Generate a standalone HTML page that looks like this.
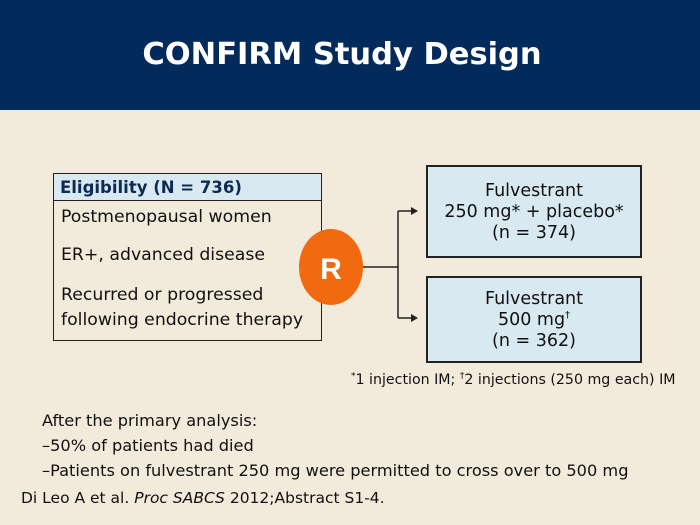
<!DOCTYPE html>
<html><head><meta charset="utf-8"><style>
body{margin:0;width:700px;height:525px;background:#f2ebdb;font-family:"DejaVu Sans","Liberation Sans",sans-serif;position:relative;overflow:hidden;color:#111}
sup{line-height:0}
.bar{position:absolute;left:0;top:0;width:700px;height:110px;background:#022b5b}
.title{position:absolute;left:-8px;width:700px;top:37px;text-align:center;color:#fff;font-weight:bold;font-size:30.5px}
.abs{position:absolute;white-space:nowrap}
.lb{position:absolute;left:53px;top:173px;width:267px;height:166px;border:1.5px solid #222;background:#f2ebdb}
.lh{height:26px;border-bottom:1.5px solid #222;background:#d8e9f1;font-weight:bold;color:#0f2a52;font-size:16.5px;padding-left:6px;line-height:27px}
.rb{position:absolute;left:426px;width:212px;border:2px solid #222;background:#d8e9f1;text-align:center;font-size:17.5px;line-height:21px}
</style></head><body>
<div class="bar"></div>
<div class="title">CONFIRM Study Design</div>
<div class="lb"><div class="lh">Eligibility (N = 736)</div></div>
<div class="abs" style="left:61px;top:207px;font-size:17.3px">Postmenopausal women</div>
<div class="abs" style="left:61px;top:245px;font-size:17.3px">ER+, advanced disease</div>
<div class="abs" style="left:61px;top:283px;font-size:17.3px;line-height:25px">Recurred or progressed<br>following endocrine therapy</div>
<svg class="abs" style="left:0;top:0" width="700" height="525">
<ellipse cx="331" cy="267" rx="32" ry="38" fill="#f26a10"/>
<text x="331" y="279" text-anchor="middle" fill="#fff" font-size="30" font-weight="bold" font-family="Liberation Sans,sans-serif">R</text>
<path d="M363 267H398M398 211V318M398 211H412M398 318H412" stroke="#222" stroke-width="1.5" fill="none"/>
<path d="M418 211l-7-4v8z M418 318l-7-4v8z" fill="#222"/>
</svg>
<div class="rb" style="top:165px;height:89px"><div style="margin-top:14px">Fulvestrant<br>250 mg* + placebo*<br>(n = 374)</div></div>
<div class="rb" style="top:276px;height:83px"><div style="margin-top:11px">Fulvestrant<br>500 mg<sup style="font-size:10px">†</sup><br>(n = 362)</div></div>
<div class="abs" style="left:351px;top:372px;font-size:14.2px"><sup style="font-size:9px">*</sup>1 injection IM; <sup style="font-size:9px">†</sup>2 injections (250 mg each) IM</div>
<div class="abs" style="left:42px;top:408px;font-size:16.2px;line-height:25px">After the primary analysis:<br>–50% of patients had died<br>–Patients on fulvestrant 250 mg were permitted to cross over to 500 mg</div>
<div class="abs" style="left:21px;top:489px;font-size:15.5px">Di Leo A et al. <i>Proc SABCS</i> 2012;Abstract S1-4.</div>
</body></html>
